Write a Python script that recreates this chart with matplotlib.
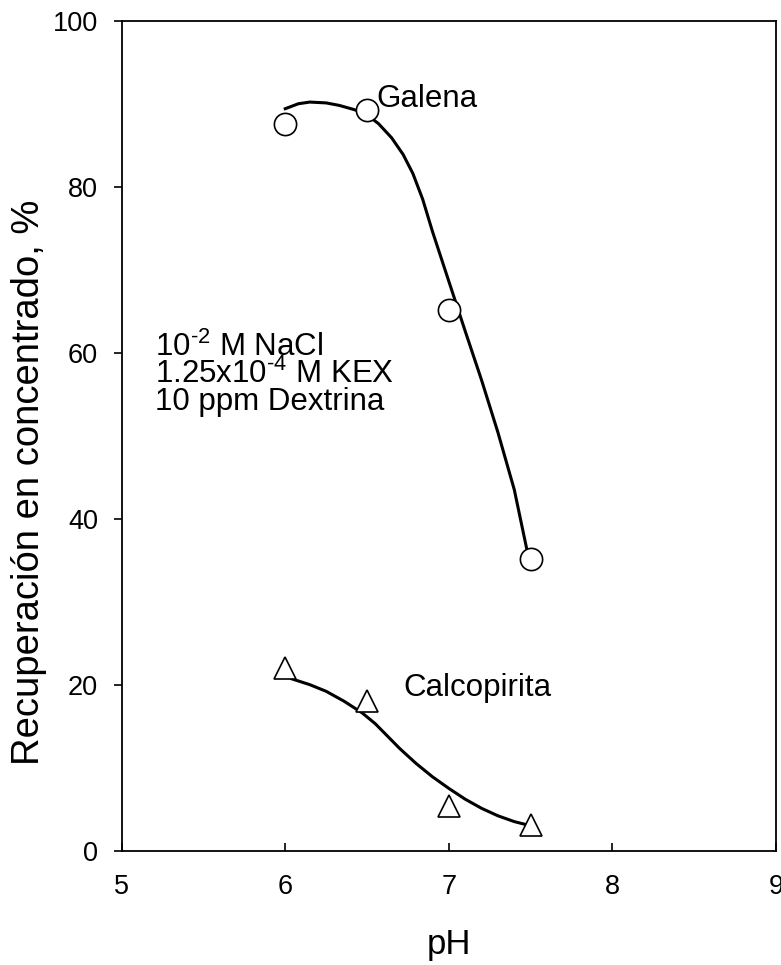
import matplotlib
matplotlib.use('Agg')
import matplotlib.pyplot as plt

plt.rcParams['font.family'] = ['Liberation Sans', 'DejaVu Sans']
plt.rcParams['mathtext.fontset'] = 'custom'
plt.rcParams['mathtext.rm'] = 'Liberation Sans'
plt.rcParams['mathtext.default'] = 'regular'

# measured points
ph_pts = [6.0, 6.5, 7.0, 7.5]
galena = [87.6, 89.2, 65.1, 35.2]
calco = [22.0, 18.0, 5.4, 3.1]

# hand drawn trend curves
galena_curve_ph = [6.0, 6.08, 6.15, 6.25, 6.33, 6.42, 6.49, 6.57, 6.65, 6.72, 6.78, 6.84, 6.9, 7.0, 7.1, 7.2, 7.3, 7.4, 7.48]
galena_curve = [89.4, 90.0, 90.2, 90.1, 89.8, 89.3, 88.8, 87.6, 85.9, 83.9, 81.6, 78.5, 74.6, 68.6, 62.6, 56.7, 50.4, 43.5, 36.0]
calco_curve_ph = [6.04, 6.15, 6.25, 6.36, 6.47, 6.55, 6.62, 6.7, 6.8, 6.9, 7.0, 7.1, 7.2, 7.3, 7.4, 7.5]
calco_curve = [20.7, 20.0, 19.2, 18.0, 16.6, 15.3, 13.9, 12.3, 10.5, 8.9, 7.5, 6.2, 5.1, 4.2, 3.5, 3.0]

fig = plt.figure(figsize=(7.81, 9.65), dpi=100)
ax = fig.add_axes([0.1558, 0.1185, 0.8378, 0.86])

ax.plot(galena_curve_ph, galena_curve, color='black', lw=2.2, zorder=2)
ax.plot(calco_curve_ph, calco_curve, color='black', lw=2.2, zorder=2)
ax.plot(ph_pts, galena, 'o', ms=16, mfc='white', mec='black', mew=1.2, zorder=3)
ax.plot(ph_pts, calco, '^', ms=16, mfc='white', mec='black', mew=1.2, zorder=3)

ax.text(6.56, 89.6, 'Galena', fontsize=22.5, ha='left', va='baseline')
ax.text(6.72, 18.6, 'Calcopirita', fontsize=22.5, ha='left', va='baseline')
ax.text(5.205, 59.6, r'10$^{\mathregular{\text{-}2}}$ M NaCl', fontsize=22.5, ha='left', va='baseline')
ax.text(5.205, 56.3, r'1.25x10$^{\mathregular{\text{-}4}}$ M KEX', fontsize=22.5, ha='left', va='baseline')
ax.text(5.205, 53.1, '10 ppm Dextrina', fontsize=22.5, ha='left', va='baseline')

ax.set_xlim(5, 9)
ax.set_ylim(0, 100)
ax.set_xticks([5, 6, 7, 8, 9])
ax.set_yticks([0, 20, 40, 60, 80, 100])
ax.tick_params(axis='x', direction='in', length=6, width=1.2, labelsize=19.5, pad=17)
ax.tick_params(axis='y', direction='out', length=6, width=1.2, labelsize=19.5, pad=11)
for s in ax.spines.values():
    s.set_linewidth(1.3)

ax.set_xlabel('pH', fontsize=25)
ax.set_ylabel('Recuperación en concentrado, %', fontsize=27.5)
ax.xaxis.set_label_coords(0.5, -0.093)
ax.yaxis.set_label_coords(-0.114, 0.444)

fig.savefig('out.png', dpi=100)
